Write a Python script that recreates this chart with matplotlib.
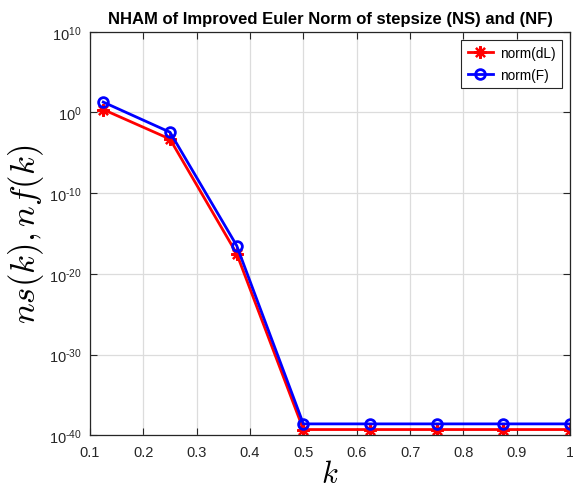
import numpy as np
import matplotlib.pyplot as plt
from matplotlib.ticker import FuncFormatter, NullLocator

plt.rcParams['font.family'] = ['Liberation Sans', 'DejaVu Sans']
plt.rcParams['mathtext.fontset'] = 'cm'

# step values and log10 of the norms
k = [0.125, 0.25, 0.375, 0.5, 0.625, 0.75, 0.875, 1.0]
log_dL = [0.36, -3.3, -17.5, -39.3, -39.3, -39.3, -39.3, -39.3]
log_F = [1.28, -2.45, -16.5, -38.6, -38.6, -38.6, -38.6, -38.6]
norm_dL = 10.0 ** np.array(log_dL)
norm_F = 10.0 ** np.array(log_F)

yticks = [1e-40, 1e-30, 1e-20, 1e-10, 1e0, 1e10]
xticks = [0.1, 0.2, 0.3, 0.4, 0.5, 0.6, 0.7, 0.8, 0.9, 1.0]
xticklabels = ['0.1', '0.2', '0.3', '0.4', '0.5', '0.6', '0.7', '0.8', '0.9', '1']


def exp_label(v, pos):
    e = int(round(np.log10(v)))
    if e < 0:
        return r'$\mathdefault{10^{' + '\u2010' + str(-e) + '}}$'
    return r'$\mathdefault{10^{%d}}$' % e


fig = plt.figure(figsize=(5.73, 4.89), dpi=100)
ax = fig.add_axes([0.157, 0.108, 0.838, 0.825])

ax.semilogy(k, norm_dL, '-', color='red', lw=2, marker=(8, 2, 0), ms=9,
            mew=1.6, label='norm(dL)')
ax.semilogy(k, norm_F, '-o', color='blue', lw=2, ms=7, mew=2, mfc='none',
            label='norm(F)')

ax.set_xlim(0.1, 1.0)
ax.set_ylim(1e-40, 1e10)
ax.set_xticks(xticks)
ax.set_xticklabels(xticklabels)
ax.set_yticks(yticks)
ax.yaxis.set_minor_locator(NullLocator())
ax.yaxis.set_major_formatter(FuncFormatter(exp_label))

ax.tick_params(direction='in', top=True, right=True, labelsize=10.5, length=5,
               colors='#262626', labelcolor='#262626')
ax.tick_params(axis='x', pad=7)
ax.tick_params(axis='y', pad=6)
for s in ax.spines.values():
    s.set_color('#262626')
    s.set_linewidth(0.9)
ax.grid(True, color='#dcdcdc', lw=0.9)
ax.set_axisbelow(True)

ax.set_title('NHAM of Improved Euler Norm of stepsize (NS) and (NF)',
             fontsize=12, fontweight='bold', pad=6)
ax.set_xlabel('$k$', fontsize=22, labelpad=0)
ax.set_ylabel('$ns(k), nf(k)$', fontsize=25, labelpad=2)

leg = ax.legend(loc='upper right', fontsize=9.8, fancybox=False, framealpha=1,
                edgecolor='#262626', handlelength=1.9, handletextpad=0.5,
                borderpad=0.45, labelspacing=0.55, borderaxespad=0.6)
leg.get_frame().set_linewidth(0.8)

fig.savefig('out.png', dpi=100)
